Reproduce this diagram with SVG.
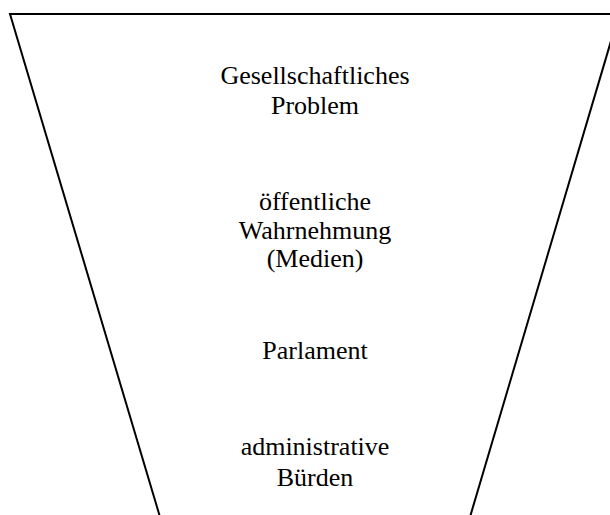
<svg xmlns="http://www.w3.org/2000/svg" width="610" height="515" viewBox="0 0 610 515">
<style>
.lbl{font-family:"Liberation Serif","Times New Roman",serif;font-size:26px;fill:#000;text-anchor:middle}
.edge{fill:none;stroke:#000;stroke-width:2}
</style>
<rect width="610" height="515" fill="#fff"/>
<g id="funnel">
<path class="edge" d="M160,517 L10,14 L619,14 L470,517"/>
</g>
<g id="problem">
<text class="lbl" x="315" y="84">Gesellschaftliches</text>
<text class="lbl" x="315" y="114">Problem</text>
</g>
<g id="medien">
<text class="lbl" x="315" y="210">öffentliche</text>
<text class="lbl" x="315" y="239">Wahrnehmung</text>
<text class="lbl" x="315" y="267">(Medien)</text>
</g>
<g id="parlament">
<text class="lbl" x="315" y="359">Parlament</text>
</g>
<g id="buerden">
<text class="lbl" x="315" y="455">administrative</text>
<text class="lbl" x="315" y="486">Bürden</text>
</g>
</svg>
